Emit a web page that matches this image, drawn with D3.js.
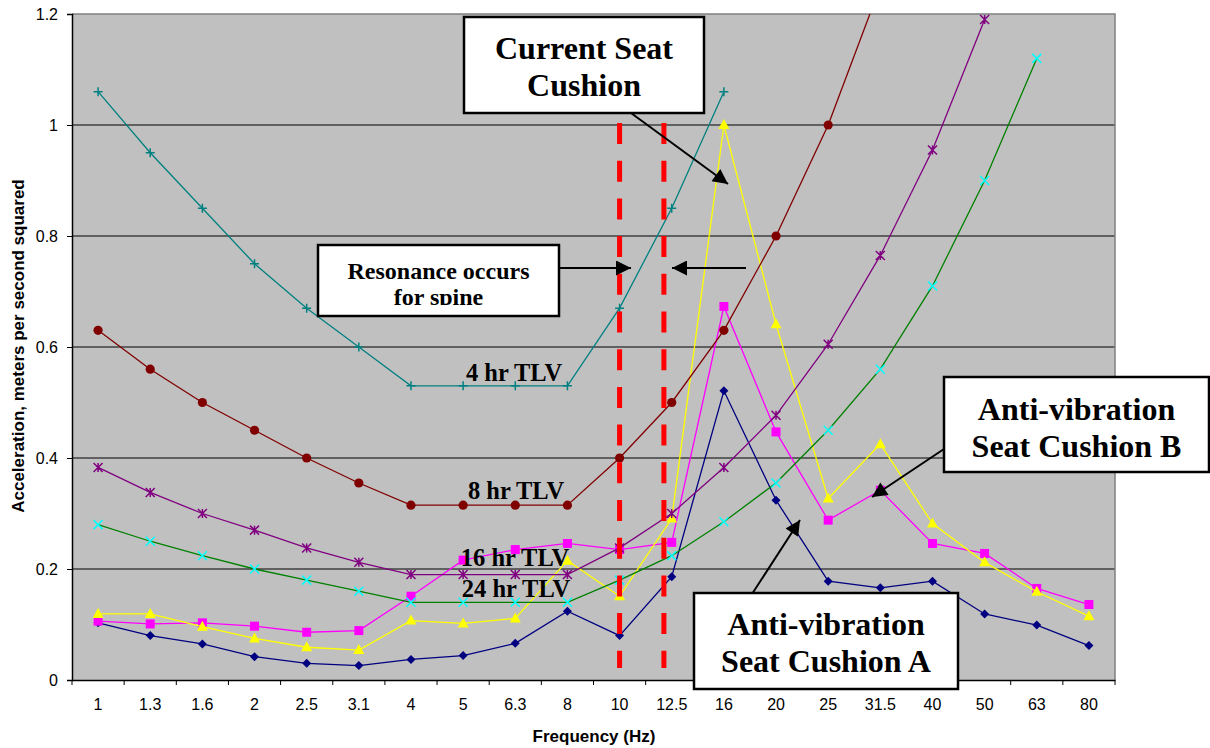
<!DOCTYPE html>
<html>
<head>
<meta charset="utf-8">
<script src="https://cdn.jsdelivr.net/npm/d3@7"></script>
<style>
	body { margin: 0; background: #ffffff; }
	svg { display: block; }
</style>
</head>
<body>
<svg id="chart" width="1210" height="748"></svg>
<script>

/* DATA */
var frequencies = ["1", "1.3", "1.6", "2", "2.5", "3.1", "4", "5", "6.3", "8", "10", "12.5", "16", "20", "25", "31.5", "40", "50", "63", "80"];
var y_Ticks = [0, 0.2, 0.4, 0.6, 0.8, 1, 1.2];

var cushion_A = [0.103, 0.080, 0.065, 0.042, 0.030, 0.026, 0.037, 0.044, 0.066, 0.124, 0.080, 0.186, 0.521, 0.324, 0.178, 0.166, 0.178, 0.119, 0.099, 0.062];
var cushion_B = [0.106, 0.101, 0.103, 0.097, 0.086, 0.089, 0.151, 0.216, 0.235, 0.246, 0.235, 0.248, 0.673, 0.447, 0.288, 0.342, 0.246, 0.228, 0.165, 0.136];
var current_Cushion = [0.119, 0.119, 0.096, 0.075, 0.059, 0.054, 0.107, 0.102, 0.111, 0.215, 0.151, 0.291, 1.0, 0.641, 0.327, 0.425, 0.282, 0.212, 0.159, 0.115];
var tlv_4hr = [1.06, 0.95, 0.85, 0.75, 0.67, 0.6, 0.53, 0.53, 0.53, 0.53, 0.67, 0.85, 1.06];
var tlv_8hr = [0.63, 0.56, 0.5, 0.45, 0.4, 0.355, 0.315, 0.315, 0.315, 0.315, 0.4, 0.5, 0.63, 0.8, 1.0, 1.25, 1.6, 2.0, 2.5, 3.15];
var tlv_16hr = [0.383, 0.338, 0.3, 0.27, 0.238, 0.212, 0.19, 0.19, 0.19, 0.19, 0.238, 0.3, 0.383, 0.477, 0.605, 0.765, 0.955, 1.19];
var tlv_24hr = [0.28, 0.25, 0.224, 0.2, 0.18, 0.16, 0.14, 0.14, 0.14, 0.14, 0.18, 0.224, 0.285, 0.355, 0.45, 0.56, 0.71, 0.9, 1.12];

/* series drawn in this order */
var series_List = [
	{ values: cushion_A,       line: "#000080", fill: "#000080", marker: "diamond" },
	{ values: cushion_B,       line: "#FF00FF", fill: "#FF00FF", marker: "square" },
	{ values: current_Cushion, line: "#FFFF00", fill: "#FFFF00", marker: "triangle" },
	{ values: tlv_4hr,         line: "#008080", fill: "#008080", marker: "plus" },
	{ values: tlv_8hr,         line: "#800000", fill: "#800000", marker: "circle" },
	{ values: tlv_16hr,        line: "#800080", fill: "#800080", marker: "asterisk" },
	{ values: tlv_24hr,        line: "#008000", fill: "#00FFFF", marker: "cross" }
];

/* LAYOUT */
var plot_Left = 72, plot_Top = 14, plot_Right = 1115, plot_Bottom = 680;
var serif = "'Liberation Serif', 'Times New Roman', serif";
var sans = "'Liberation Sans', Arial, sans-serif";

var svg = d3.select("#chart");

var x = d3.scaleBand().domain(frequencies).range([plot_Left, plot_Right]).paddingInner(0).paddingOuter(0);
var y = d3.scaleLinear().domain([0, 1.2]).range([plot_Bottom, plot_Top]);
var cx = function(i){ return x(frequencies[i]) + x.bandwidth() / 2; };

/* plot background */
svg.append("rect")
	.attr("x", plot_Left).attr("y", plot_Top)
	.attr("width", plot_Right - plot_Left).attr("height", plot_Bottom - plot_Top)
	.attr("fill", "#C0C0C0");

/* gridlines */
svg.append("g").selectAll("line")
	.data(y_Ticks.filter(function(t){ return t > 0 && t < 1.2; }))
	.enter().append("line")
	.attr("x1", plot_Left).attr("x2", plot_Right)
	.attr("y1", function(d){ return y(d); }).attr("y2", function(d){ return y(d); })
	.attr("stroke", "#000000").attr("stroke-width", 1);

/* border top & right */
svg.append("path")
	.attr("d", "M" + plot_Left + "," + plot_Top + "H" + plot_Right + "V" + plot_Bottom)
	.attr("fill", "none").attr("stroke", "#808080").attr("stroke-width", 1.5);

/* y axis */
var y_Axis = svg.append("g")
	.attr("transform", "translate(" + plot_Left + ",0)")
	.call(d3.axisLeft(y).tickValues(y_Ticks).tickSize(5).tickPadding(9).tickFormat(d3.format("")));
y_Axis.select(".domain").attr("stroke", "#000000").attr("stroke-width", 1.5);
y_Axis.selectAll("text").attr("font-family", sans).attr("font-size", 16).attr("fill", "#000000");

/* x axis: labels centred, ticks on category borders */
var x_Axis = svg.append("g")
	.attr("transform", "translate(0," + plot_Bottom + ")")
	.call(d3.axisBottom(x).tickSize(0).tickPadding(19));
x_Axis.select(".domain").attr("stroke", "#000000").attr("stroke-width", 1.5);
x_Axis.selectAll("text").attr("font-family", sans).attr("font-size", 16).attr("fill", "#000000");

svg.append("g").selectAll("line")
	.data(frequencies.concat(["end"]))
	.enter().append("line")
	.attr("x1", function(d, i){ return plot_Left + i * x.bandwidth(); })
	.attr("x2", function(d, i){ return plot_Left + i * x.bandwidth(); })
	.attr("y1", plot_Bottom).attr("y2", plot_Bottom + 5)
	.attr("stroke", "#000000").attr("stroke-width", 1);

/* axis titles */
svg.append("text")
	.attr("x", 594).attr("y", 742)
	.attr("text-anchor", "middle")
	.attr("font-family", sans).attr("font-size", 17).attr("font-weight", "bold")
	.text("Frequency (Hz)");

svg.append("text")
	.attr("transform", "translate(24,346) rotate(-90)")
	.attr("text-anchor", "middle")
	.attr("font-family", sans).attr("font-size", 17).attr("font-weight", "bold")
	.text("Acceleration, meters per second squared");

/* clip */
svg.append("clipPath").attr("id", "plot_Clip")
	.append("rect").attr("x", plot_Left).attr("y", plot_Top).attr("width", plot_Right - plot_Left).attr("height", plot_Bottom - plot_Top);

var plot = svg.append("g").attr("clip-path", "url(#plot_Clip)");

var r = 4.5;
var marker_Paths = {
	diamond: "M0," + (-r) + "L" + r + ",0L0," + r + "L" + (-r) + ",0Z",
	square: "M-4.5,-4.5H4.5V4.5H-4.5Z",
	triangle: "M0,-6L5.5,4H-5.5Z",
	plus: "M" + (-r) + ",0H" + r + "M0," + (-r) + "V" + r,
	cross: "M" + (-r) + "," + (-r) + "L" + r + "," + r + "M" + (-r) + "," + r + "L" + r + "," + (-r),
	asterisk: "M" + (-r) + "," + (-r) + "L" + r + "," + r + "M" + (-r) + "," + r + "L" + r + "," + (-r) + "M0," + (-r) + "V" + r
};
var filled_Marker = { diamond: true, square: true, triangle: true };

var line_Gen = d3.line()
	.x(function(d, i){ return cx(i); })
	.y(function(d){ return y(d); });

series_List.forEach(function(s){

	plot.append("path")
		.datum(s.values)
		.attr("d", line_Gen)
		.attr("fill", "none")
		.attr("stroke", s.line)
		.attr("stroke-width", 1.3);

	var markers = plot.append("g").selectAll("g")
		.data(s.values)
		.enter().append("g")
		.attr("transform", function(d, i){ return "translate(" + cx(i) + "," + y(d) + ")"; });

	if(s.marker == "circle"){
		markers.append("circle").attr("r", 4.6).attr("fill", s.fill);
	}
	else if(filled_Marker[s.marker]){
		markers.append("path").attr("d", marker_Paths[s.marker]).attr("fill", s.fill);
	}
	else {
		markers.append("path")
			.attr("d", marker_Paths[s.marker])
			.attr("fill", "none")
			.attr("stroke", s.fill)
			.attr("stroke-width", 1.5);
	}
});

/* red dashed resonance lines */
var resonance_X = [cx(10), cx(10) + 0.85 * x.bandwidth()];
svg.append("g").selectAll("line")
	.data(resonance_X)
	.enter().append("line")
	.attr("x1", function(d){ return d; }).attr("x2", function(d){ return d; })
	.attr("y1", 123).attr("y2", 668)
	.attr("stroke", "#FF0000")
	.attr("stroke-width", 5)
	.attr("stroke-dasharray", "21,16.7");

/* TLV labels */
var tlv_Labels = [
	{ text: "4 hr TLV", x: 514, y: 372 },
	{ text: "8 hr TLV", x: 516, y: 490 },
	{ text: "16 hr TLV", x: 515, y: 557 },
	{ text: "24 hr TLV", x: 516, y: 588 }
];
svg.append("g").selectAll("text")
	.data(tlv_Labels)
	.enter().append("text")
	.attr("x", function(d){ return d.x; }).attr("y", function(d){ return d.y; })
	.attr("dy", "0.35em")
	.attr("text-anchor", "middle")
	.attr("font-family", serif).attr("font-size", 24.5).attr("font-weight", "bold")
	.attr("fill", "#000000")
	.text(function(d){ return d.text; });

/* arrow head marker */
svg.append("defs").append("marker")
	.attr("id", "arrow_Head")
	.attr("viewBox", "0 0 10 10")
	.attr("refX", 10).attr("refY", 5)
	.attr("markerWidth", 18).attr("markerHeight", 15)
	.attr("markerUnits", "userSpaceOnUse")
	.attr("orient", "auto")
	.append("path").attr("d", "M0,0L10,5L0,10Z").attr("fill", "#000000");

var arrows = [
	[631, 113, 728, 184],
	[559, 268, 631, 268],
	[746, 268, 672, 268],
	[944, 449, 872, 497],
	[752, 594, 800, 520]
];
svg.append("g").selectAll("line")
	.data(arrows)
	.enter().append("line")
	.attr("x1", function(d){ return d[0]; }).attr("y1", function(d){ return d[1]; })
	.attr("x2", function(d){ return d[2]; }).attr("y2", function(d){ return d[3]; })
	.attr("stroke", "#000000").attr("stroke-width", 2)
	.attr("marker-end", "url(#arrow_Head)");

/* annotation boxes */
var boxes = [
	{ x: 464, y: 17, w: 240, h: 96, size: 32, lines: ["Current Seat", "Cushion"], line_Y: [48, 85] },
	{ x: 318, y: 245, w: 241, h: 71, size: 24, lines: ["Resonance occurs", "for spine"], line_Y: [271, 297], clip: 305 },
	{ x: 944, y: 377, w: 265, h: 95, size: 32, lines: ["Anti-vibration", "Seat Cushion B"], line_Y: [409, 446] },
	{ x: 694, y: 593, w: 264, h: 96, size: 32, lines: ["Anti-vibration", "Seat Cushion A"], line_Y: [624, 661] }
];

boxes.forEach(function(b, k){

	var g = svg.append("g");

	g.append("rect")
		.attr("x", b.x).attr("y", b.y).attr("width", b.w).attr("height", b.h)
		.attr("fill", "#FFFFFF").attr("stroke", "#000000").attr("stroke-width", 2.5);

	var text_G = g.append("g");
	if(b.clip){
		svg.append("clipPath").attr("id", "box_Clip" + k)
			.append("rect").attr("x", b.x).attr("y", b.y).attr("width", b.w).attr("height", b.clip - b.y);
		text_G.attr("clip-path", "url(#box_Clip" + k + ")");
	}

	text_G.selectAll("text")
		.data(b.lines)
		.enter().append("text")
		.attr("x", b.x + b.w / 2)
		.attr("y", function(d, i){ return b.line_Y[i]; })
		.attr("dy", "0.35em")
		.attr("text-anchor", "middle")
		.attr("font-family", serif).attr("font-size", b.size).attr("font-weight", "bold")
		.attr("fill", "#000000")
		.text(function(d){ return d; });
});

</script>
</body>
</html>
